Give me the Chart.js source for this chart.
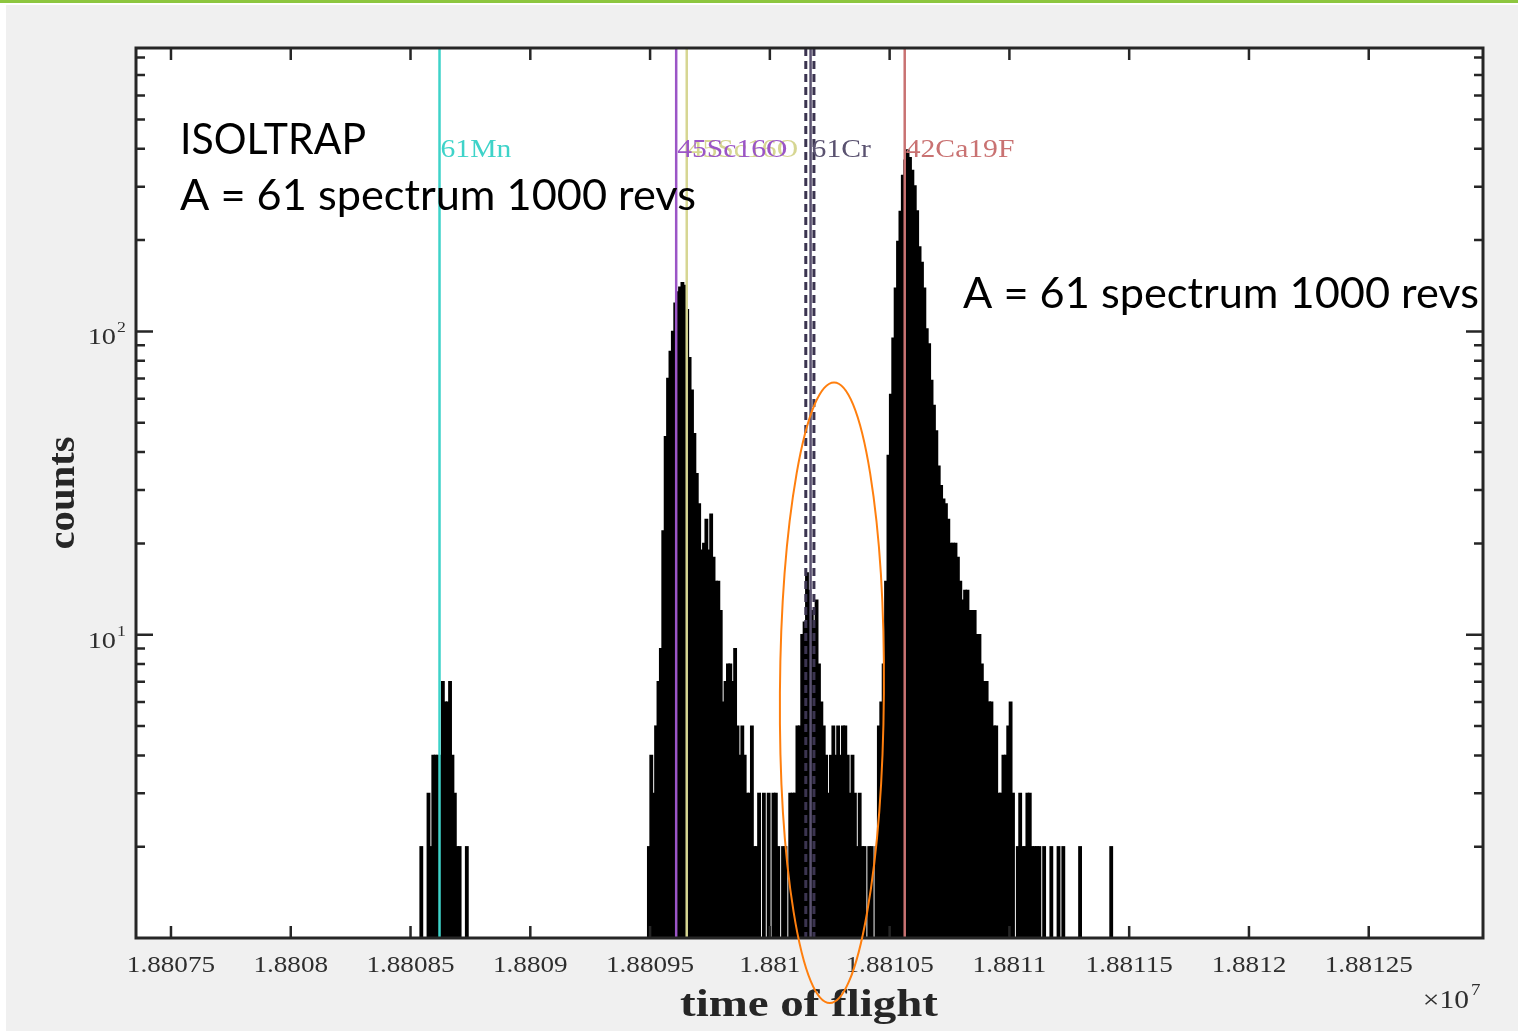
<!DOCTYPE html>
<html>
<head>
<meta charset="utf-8">
<script src="https://cdn.jsdelivr.net/npm/chart.js@4.4.1/dist/chart.umd.min.js"></script>
<style>
  html, body { margin: 0; padding: 0; background: #fff; }
  #wrap { position: relative; width: 1518px; height: 1031px; }
</style>
</head>
<body>
<div id="wrap"><canvas id="tof" width="1518" height="1031"></canvas></div>
<script>
// ISOLTRAP A = 61 time-of-flight spectrum, log counts, 10 ns bins

const binWidth = 10;

// 61Mn group
const mnBinStart = 18808530;
const mnCounts = [0, 2, 1, 1, 3, 2, 4, 4, 4, 4, 7, 6, 6, 7, 4, 3, 2, 2, 1, 1, 2];

// 45Sc16O / 61Cr / 42Ca19F group
const mainBinStart = 18809480;
const mainCounts = [
  1, 2, 4, 3, 5, 7, 9, 22, 45, 70,
  86, 100, 124, 135, 140, 145, 142, 118, 82, 64,
  46, 34, 27, 19, 20, 24, 19, 25, 18, 15,
  15, 12, 6, 7, 8, 8, 7, 9, 5, 4,
  5, 4, 3, 3, 5, 2, 2, 3, 1, 3,
  1, 3, 1, 3, 3, 2, 1, 2, 2, 1,
  3, 3, 3, 5, 5, 10, 11, 16, 14, 12,
  11, 13, 8, 6, 5, 4, 3, 4, 5, 4,
  5, 4, 5, 5, 4, 3, 4, 3, 2, 3,
  2, 2, 1, 2, 2, 1, 2, 5, 6, 8,
  15, 39, 62, 95, 139, 198, 249, 327, 367, 397,
  374, 340, 302, 250, 190, 169, 139, 102, 91, 69,
  57, 47, 36, 31, 28, 27, 24, 20, 20, 20,
  18, 15, 13, 14, 14, 12, 12, 12, 10, 10,
  8, 7, 7, 6, 6, 5, 5, 3, 3, 4,
  4, 5, 6, 3, 1, 2, 3, 2, 2, 3,
  3, 2, 2, 2, 2, 1, 2, 0, 0, 2,
  0, 0, 2, 0, 2, 0, 0, 0, 0, 0,
  0, 2, 0, 0, 0, 0, 0, 0, 0, 0,
  0, 0, 0, 0, 2
];

const xTickValues = [18807500, 18808000, 18808500, 18809000, 18809500, 18810000,
                     18810500, 18811000, 18811500, 18812000, 18812500];
const xTickLabels = ['1.88075', '1.8808', '1.88085', '1.8809', '1.88095', '1.881',
                     '1.88105', '1.8811', '1.88115', '1.8812', '1.88125'];
const yMajorTicks = [10, 100];
const yTickExponents = ['1', '2'];
const yMinorTicks = [2, 3, 4, 5, 6, 7, 8, 9, 20, 30, 40, 50, 60, 70, 80, 90,
                     200, 300, 400, 500, 600, 700, 800];

// reference masses
const markerNames = ['61Mn', '45Sc16O', '45Sc16O', '61Cr', '42Ca19F'];
const markerTof = [18808621, 18809653, 18809609, 18810170, 18810563];
const markerColors = ['#3ed3c9', '#d6d692', '#9b55c6', '#5a5270', '#c97272'];
const crLimits = [18810150, 18810184];

// highlighted region (orange ring)
const ringTof = 18810259;
const ringHalfWidth = 217;
const ringCounts = [0.61, 67.9];

function toPoints(start, counts) {
  const pts = [];
  counts.forEach((c, i) => {
    if (c > 0) pts.push({ x: start + binWidth * (i + 0.5), y: c });
  });
  return pts;
}

const SERIF = '"Liberation Serif", "Times New Roman", serif';
const SX = 1.18; // the source figure is stretched horizontally

function stretchText(ctx, txt, x, y, font, sx, align) {
  ctx.save();
  ctx.font = font;
  ctx.translate(x, y);
  ctx.scale(sx, 1);
  ctx.textAlign = align || 'left';
  ctx.textBaseline = 'alphabetic';
  ctx.fillText(txt, 0, 0);
  ctx.restore();
}

function fitText(ctx, txt, x, y, font, width) {
  ctx.save();
  ctx.font = font;
  const w = ctx.measureText(txt).width;
  ctx.translate(x, y);
  ctx.scale(width / w, 1);
  ctx.textAlign = 'left';
  ctx.textBaseline = 'alphabetic';
  ctx.fillText(txt, 0, 0);
  ctx.restore();
}

const background = {
  id: 'background',
  beforeDraw(chart) {
    const { ctx, chartArea: a } = chart;
    ctx.save();
    ctx.fillStyle = '#ffffff';
    ctx.fillRect(0, 0, chart.width, chart.height);
    ctx.fillStyle = '#f0f0f0';
    ctx.fillRect(6, 5, chart.width - 6, chart.height - 5);
    ctx.fillStyle = '#8dc63f';
    ctx.fillRect(0, 0, chart.width, 3);
    ctx.fillStyle = '#ffffff';
    ctx.fillRect(a.left, a.top, a.right - a.left, a.bottom - a.top);
    ctx.restore();
  }
};

const decorations = {
  id: 'decorations',
  afterDatasetsDraw(chart) {
    const { ctx, chartArea: a, scales: { x, y } } = chart;
    ctx.save();

    // reference lines
    ctx.save();
    ctx.beginPath();
    ctx.rect(a.left, a.top, a.right - a.left, a.bottom - a.top);
    ctx.clip();
    ctx.lineWidth = 3;
    ctx.strokeStyle = '#3b3450';
    ctx.setLineDash([8, 5]);
    crLimits.forEach(v => {
      const px = x.getPixelForValue(v);
      ctx.beginPath(); ctx.moveTo(px, a.top); ctx.lineTo(px, a.bottom); ctx.stroke();
    });
    ctx.setLineDash([]);
    ctx.lineWidth = 2.5;
    markerTof.forEach((v, i) => {
      const px = x.getPixelForValue(v);
      ctx.strokeStyle = markerColors[i];
      ctx.beginPath(); ctx.moveTo(px, a.top); ctx.lineTo(px, a.bottom); ctx.stroke();
    });
    ctx.restore();

    markerTof.forEach((v, i) => {
      const px = x.getPixelForValue(v);
      ctx.fillStyle = markerColors[i];
      stretchText(ctx, markerNames[i], px + 1, a.top + 109, '26px ' + SERIF, 1.14);
    });

    // axes box
    ctx.strokeStyle = '#262626';
    ctx.lineWidth = 3;
    ctx.strokeRect(a.left, a.top, a.right - a.left, a.bottom - a.top);

    // ticks, pointing inwards on all sides
    ctx.lineWidth = 2.5;
    ctx.beginPath();
    xTickValues.forEach(v => {
      const px = x.getPixelForValue(v);
      ctx.moveTo(px, a.bottom); ctx.lineTo(px, a.bottom - 12);
      ctx.moveTo(px, a.top); ctx.lineTo(px, a.top + 12);
    });
    yMajorTicks.forEach(v => {
      const py = y.getPixelForValue(v);
      ctx.moveTo(a.left, py); ctx.lineTo(a.left + 17, py);
      ctx.moveTo(a.right, py); ctx.lineTo(a.right - 17, py);
    });
    yMinorTicks.forEach(v => {
      const py = y.getPixelForValue(v);
      ctx.moveTo(a.left, py); ctx.lineTo(a.left + 9, py);
      ctx.moveTo(a.right, py); ctx.lineTo(a.right - 9, py);
    });
    ctx.stroke();

    // tick labels
    ctx.fillStyle = '#2e2e2e';
    xTickValues.forEach((v, i) => {
      stretchText(ctx, xTickLabels[i], x.getPixelForValue(v), a.bottom + 34, '23px ' + SERIF, SX, 'center');
    });
    yMajorTicks.forEach((v, i) => {
      const py = y.getPixelForValue(v);
      stretchText(ctx, '10', a.left - 20, py + 13, '24px ' + SERIF, SX, 'right');
      stretchText(ctx, yTickExponents[i], a.left - 19, py + 1, '15px ' + SERIF, SX, 'left');
    });
    stretchText(ctx, '\u00d710', a.right - 14, a.bottom + 70, '25px ' + SERIF, SX, 'right');
    stretchText(ctx, '7', a.right - 12, a.bottom + 57, '16px ' + SERIF, SX, 'left');

    // axis titles
    ctx.fillStyle = '#262626';
    fitText(ctx, 'time of flight', 680, a.bottom + 78, 'bold 37px ' + SERIF, 258);
    ctx.save();
    ctx.translate(74, (a.top + a.bottom) / 2);
    ctx.rotate(-Math.PI / 2);
    ctx.font = 'bold 38px ' + SERIF;
    const cw = ctx.measureText('counts').width;
    ctx.scale(113 / cw, 1);
    ctx.textAlign = 'center';
    ctx.fillText('counts', 0, 0);
    ctx.restore();

    // slide annotations
    ctx.fillStyle = '#000000';
    const sans = '43px Lato, "Open Sans", sans-serif';
    fitText(ctx, 'ISOLTRAP', a.left + 44, a.top + 106, sans, 186);
    fitText(ctx, 'A = 61 spectrum 1000 revs', a.left + 44, a.top + 162, sans, 516);
    fitText(ctx, 'A = 61 spectrum 1000 revs', a.left + 827, a.top + 260, sans, 516);

    // orange ring
    const cx = x.getPixelForValue(ringTof);
    const rx = x.getPixelForValue(ringTof + ringHalfWidth) - cx;
    const yb = y.getPixelForValue(ringCounts[0]);
    const yt = y.getPixelForValue(ringCounts[1]);
    ctx.strokeStyle = '#ff7f0e';
    ctx.lineWidth = 2;
    ctx.beginPath();
    ctx.ellipse(cx, (yb + yt) / 2, rx, (yb - yt) / 2, 0.007, 0, Math.PI * 2);
    ctx.stroke();

    ctx.restore();
  }
};

new Chart(document.getElementById('tof').getContext('2d'), {
  type: 'bar',
  data: {
    datasets: [{
      data: toPoints(mnBinStart, mnCounts).concat(toPoints(mainBinStart, mainCounts)),
      backgroundColor: '#000000',
      borderWidth: 0,
      barPercentage: 1.1,
      categoryPercentage: 1,
      inflateAmount: 0.6
    }]
  },
  options: {
    responsive: false,
    animation: false,
    layout: { padding: { left: 136, top: 48, right: 35, bottom: 93 } },
    plugins: { legend: { display: false }, tooltip: { enabled: false } },
    scales: {
      x: { type: 'linear', min: 18807354, max: 18812977, offset: false, display: false },
      y: { type: 'logarithmic', min: 1, max: 860, display: false }
    }
  },
  plugins: [background, decorations]
});
</script>
</body>
</html>
